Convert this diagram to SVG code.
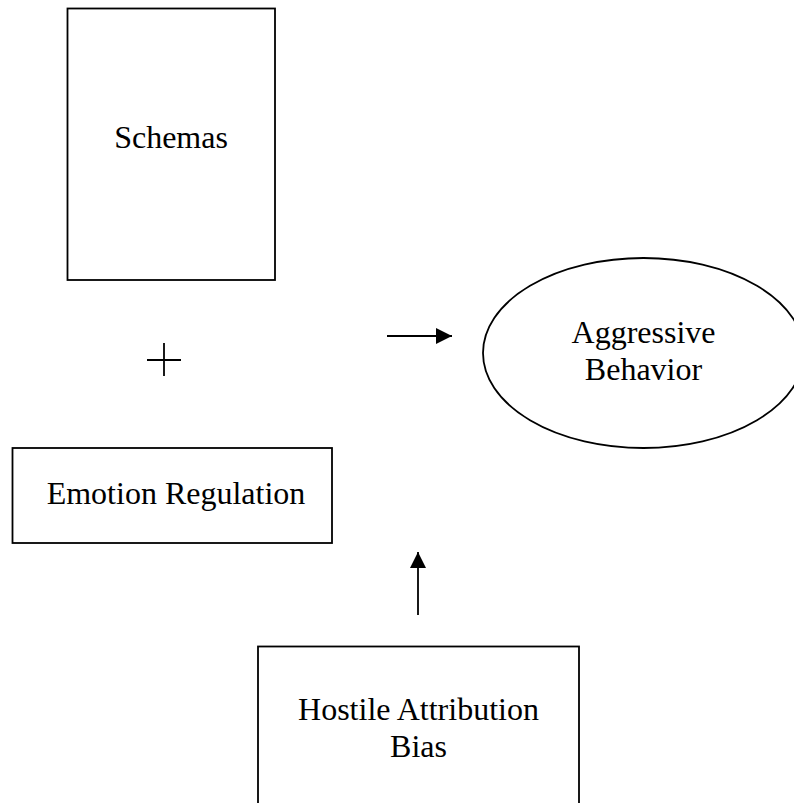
<svg xmlns="http://www.w3.org/2000/svg" width="794" height="803" viewBox="0 0 794 803">
  <style>
    .box { fill: #fff; stroke: #000; stroke-width: 1.8; }
    .lbl { font-family: "Liberation Serif", "Times New Roman", serif; font-size: 32px; fill: #000; text-anchor: middle; }
    .conn { stroke: #000; stroke-width: 1.8; fill: none; }
  </style>
  <defs>
    <marker id="arrow" markerWidth="16" markerHeight="16" refX="16" refY="8" orient="auto" markerUnits="userSpaceOnUse">
      <path d="M0,0 L16,8 L0,16 Z" fill="#000"/>
    </marker>
  </defs>
  <rect width="794" height="803" fill="#fff"/>
  <g id="schemas">
    <rect class="box" x="67.5" y="8.5" width="207.5" height="271.5"/>
    <text class="lbl" x="171" y="148">Schemas</text>
  </g>
  <g id="emotion-regulation">
    <rect class="box" x="12.5" y="448" width="319.5" height="95"/>
    <text class="lbl" x="176" y="504">Emotion Regulation</text>
  </g>
  <g id="aggressive-behavior">
    <ellipse class="box" cx="643.5" cy="353" rx="160.5" ry="95"/>
    <text class="lbl" x="643.5" y="343">Aggressive</text>
    <text class="lbl" x="643.5" y="380">Behavior</text>
  </g>
  <g id="hostile-attribution-bias">
    <rect class="box" x="258" y="646.5" width="321" height="170"/>
    <text class="lbl" x="418.5" y="720">Hostile Attribution</text>
    <text class="lbl" x="418.5" y="757">Bias</text>
  </g>
  <g id="connectors">
    <line class="conn" x1="147" y1="360" x2="181" y2="360"/>
    <line class="conn" x1="164" y1="343" x2="164" y2="376"/>
    <line class="conn" x1="387" y1="336" x2="452" y2="336" marker-end="url(#arrow)"/>
    <line class="conn" x1="418" y1="615" x2="418" y2="552" marker-end="url(#arrow)"/>
  </g>
</svg>
